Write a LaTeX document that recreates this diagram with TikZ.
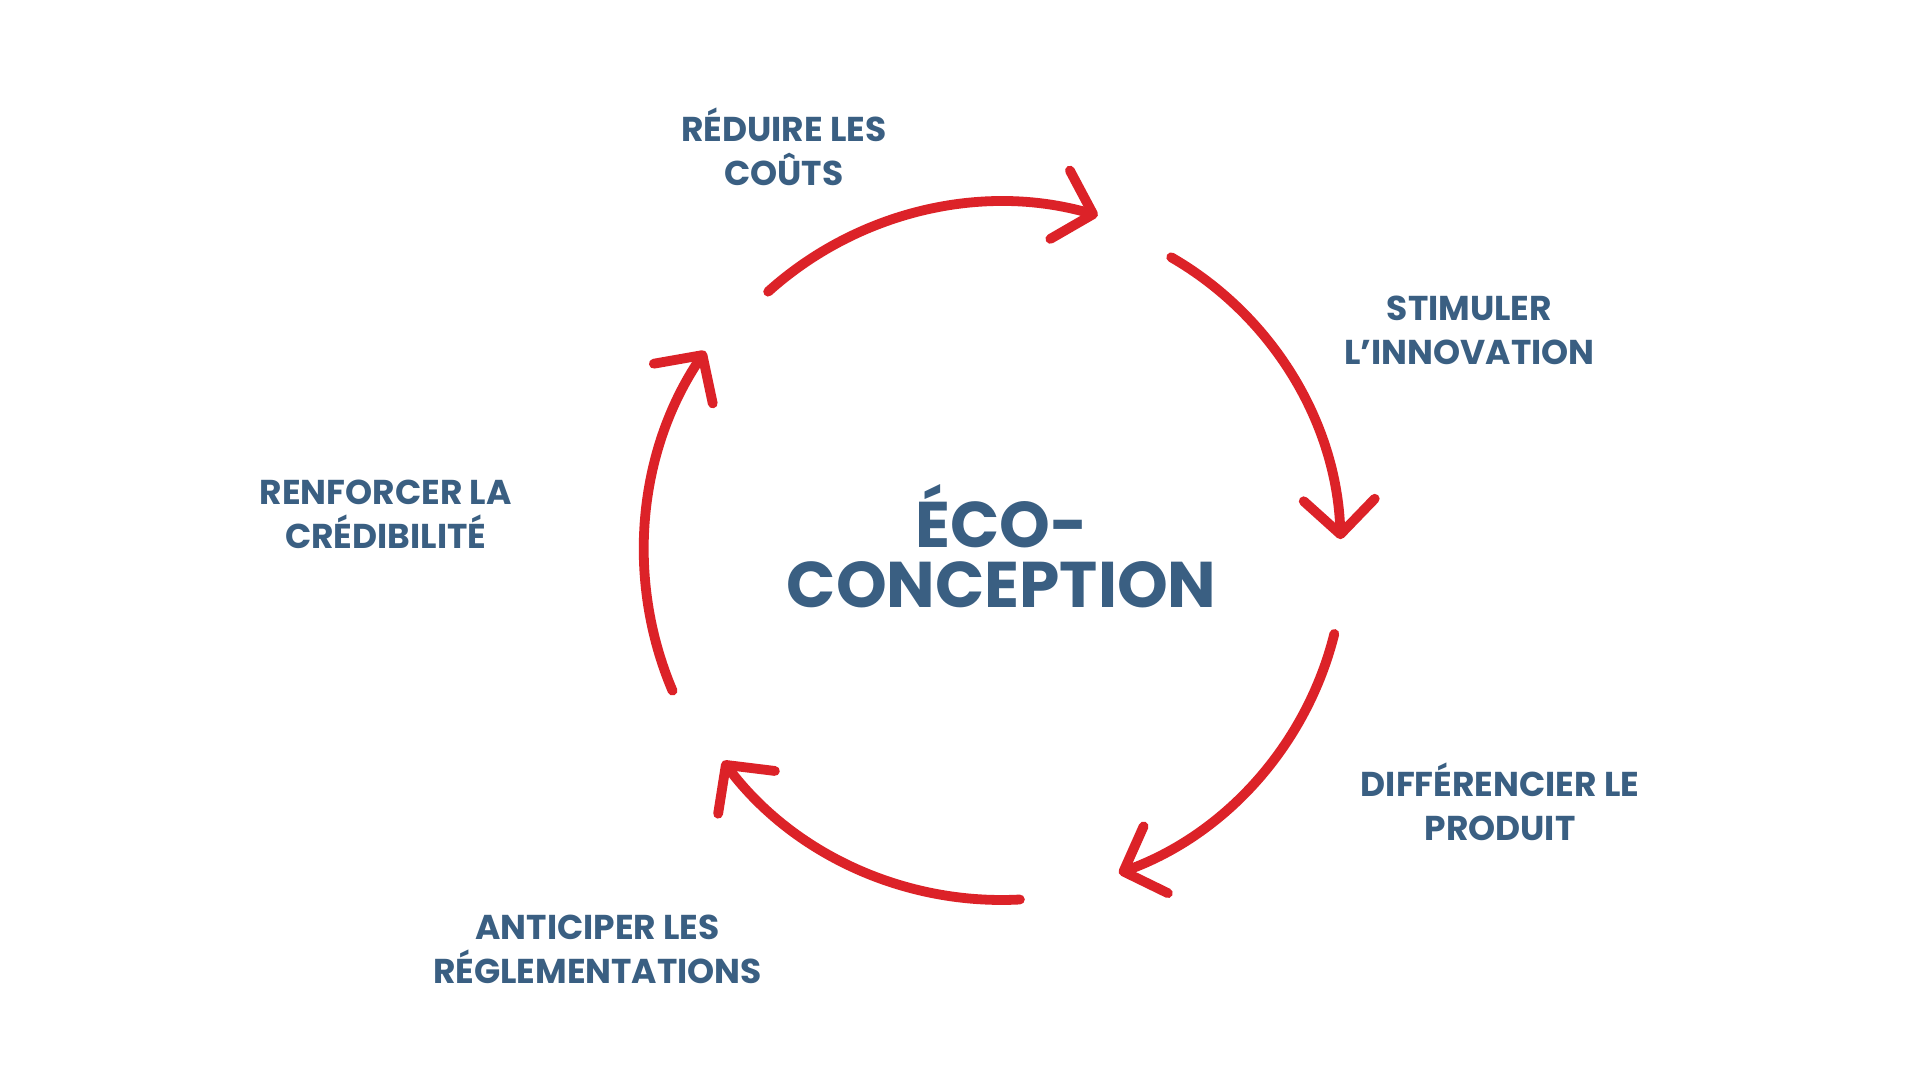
\documentclass[tikz,border=0pt]{standalone}
\usepackage{fontspec}
\setmainfont{Poppins}
\usetikzlibrary{arrows.meta}
\definecolor{txtblue}{HTML}{3A5F82}
\definecolor{arcred}{HTML}{DC2228}
\begin{document}
\begin{tikzpicture}[x=0.01cm,y=0.01cm,
  lbl/.style={text=txtblue,font=\bfseries\fontsize{8}{10.2}\selectfont,align=center},
  arcsty/.style={draw=arcred,line width=0.8mm,line cap=round,
    -{Straight Barb[length=2.8mm,width=5.8mm,line width=0.8mm,round]}}]
\useasboundingbox (0,0) rectangle (1568,882);
\fill[white] (0,0) rectangle (1568,882);
\coordinate (C) at (818,432);
\draw[arcsty] ([shift={(132:285)}]C) arc[start angle=132,end angle=74,radius=285];
\draw[arcsty] ([shift={(60:277)}]C) arc[start angle=60,end angle=2,radius=277];
\draw[arcsty] ([shift={(-14:280)}]C) arc[start angle=-14,end angle=-70,radius=280];
\draw[arcsty] ([shift={(-87:285)}]C) arc[start angle=-87,end angle=-143,radius=285];
\draw[arcsty] ([shift={(-157:292)}]C) arc[start angle=-157,end angle=-214,radius=292];
\node[lbl] (n1) at (640,762) {RÉDUIRE LES\\COÛTS};
\node[lbl] (n2) at (1200,612) {STIMULER\\L'INNOVATION};
\node[lbl] (n3) at (1225,227) {DIFFÉRENCIER LE\\PRODUIT};
\node[lbl] (n4) at (488,107) {ANTICIPER LES\\RÉGLEMENTATIONS};
\node[lbl] (n5) at (315,462) {RENFORCER LA\\CRÉDIBILITÉ};
\node[text=txtblue,font=\bfseries\fontsize{15}{13.8}\selectfont,align=center] (c) at (818,436) {ÉCO-\\CONCEPTION};
\end{tikzpicture}
\end{document}
